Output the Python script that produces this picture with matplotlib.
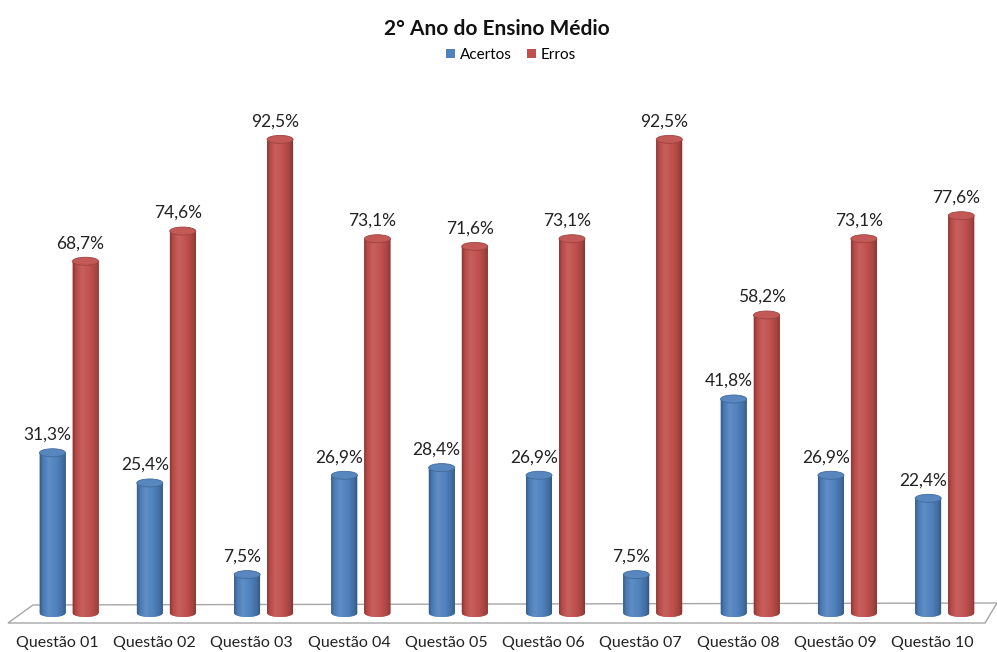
import numpy as np
import matplotlib
matplotlib.use("Agg")
import matplotlib.pyplot as plt
from matplotlib.patches import Ellipse, Polygon, Patch
from matplotlib.colors import to_rgb

# ---------------- data ----------------
title = "2° Ano do Ensino Médio"
categories = ["Questão 01", "Questão 02", "Questão 03", "Questão 04", "Questão 05",
              "Questão 06", "Questão 07", "Questão 08", "Questão 09", "Questão 10"]
series_names = ["Acertos", "Erros"]
acertos = [31.3, 25.4, 7.5, 26.9, 28.4, 26.9, 7.5, 41.8, 26.9, 22.4]
erros = [68.7, 74.6, 92.5, 73.1, 71.6, 73.1, 92.5, 58.2, 73.1, 77.6]
series_colors = ["#4F81BD", "#C0504D"]

FONT = ["Lato", "DejaVu Sans"]
plt.rcParams["font.family"] = FONT

W, H = 997, 652
fig = plt.figure(figsize=(W / 100, H / 100), dpi=100)
ax = fig.add_axes([0, 0, 1, 1])
ax.axis("off")

# pixel scale of the plotting area
px_x, x0_px = 97.3, 69.0      # pixels per category, pixel of category 0 centre
px_y, y0_px = 5.12, 39.0      # pixels per percent, pixel (from bottom) of 0 %

def px2data(xp, yp_top):
    return (xp - x0_px) / px_x, (H - yp_top - y0_px) / px_y

bar_w = 26 / px_x
offset = 16.5 / px_x
ell_h = 8 / px_y

x = np.arange(len(categories))

# floor
floor_px = [(8, 623), (33, 605), (997, 603), (985, 623)]
floor = Polygon([px2data(*p) for p in floor_px], closed=True,
                facecolor="white", edgecolor="#A6A6A6", lw=1.0, zorder=0.5)
ax.add_patch(floor)


def shade(base, f):
    b = np.array(to_rgb(base))
    if f >= 1:
        return b + (1 - b) * (f - 1)
    return b * f


def gradient(base):
    t = np.linspace(0, 1, 64)
    f = np.interp(t, [0, 0.1, 0.33, 0.65, 0.9, 1.0],
                  [0.70, 0.93, 1.10, 1.0, 0.84, 0.68])
    return np.array([[shade(base, fi) for fi in f]])


for si, (vals, col) in enumerate(zip([acertos, erros], series_colors)):
    xs = x + (-offset if si == 0 else offset)
    bars = ax.bar(xs, vals, width=bar_w, color=col, zorder=2)
    grad = gradient(col)
    for rect in bars:
        xl = rect.get_x()
        w = rect.get_width()
        v = rect.get_height()
        xc = xl + w / 2
        th = np.linspace(np.pi, 2 * np.pi, 40)
        arc = np.column_stack([xc + w / 2 * np.cos(th), ell_h / 2 * np.sin(th)])
        verts = np.vstack([[[xl, v], [xl, 0]], arc, [[xl + w, 0], [xl + w, v]]])
        body = Polygon(verts, closed=True, facecolor=col, edgecolor="none", zorder=2)
        ax.add_patch(body)
        im = ax.imshow(grad, extent=[xl, xl + w, -ell_h / 2, v], aspect="auto",
                       interpolation="bicubic", zorder=2.1)
        im.set_clip_path(body)
        top = Ellipse((xc, v), w, ell_h, facecolor=shade(col, 1.05),
                      edgecolor=shade(col, 0.82), lw=0.6, zorder=2.2)
        ax.add_patch(top)
        ax.text(xc - 5 / px_x, v + 18 / px_y, f"{v:.1f}%".replace(".", ","),
                ha="center", va="center", fontsize=12.5, color="#222222", zorder=3)

# category labels
for xi, cat in zip(x, categories):
    ax.text(xi - 12 / px_x, px2data(0, 643)[1], cat, ha="center", va="center",
            fontsize=11.5, color="#222222")

ax.set_xlim(-x0_px / px_x, (W - x0_px) / px_x)
ax.set_ylim(-y0_px / px_y, (H - y0_px) / px_y)

fig.text(497 / W, 1 - 29 / H, title, ha="center", va="center",
         fontsize=15, fontweight="bold", color="#111111")

handles = [Patch(facecolor=c, edgecolor="none") for c in series_colors]
fig.legend(handles, series_names, loc="center", bbox_to_anchor=(511 / W, 1 - 55 / H),
           ncol=2, frameon=False, fontsize=11, handlelength=0.6, handleheight=0.6,
           handletextpad=0.3, columnspacing=1.0)

fig.savefig("out.png", dpi=100)
